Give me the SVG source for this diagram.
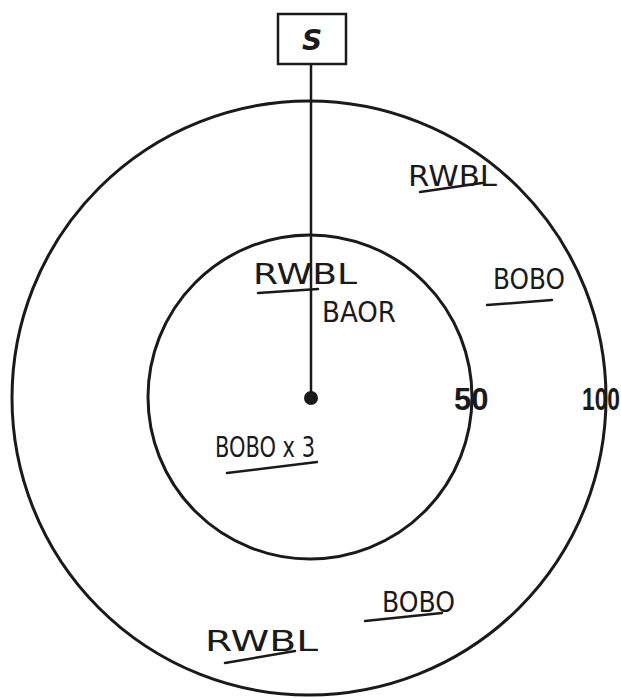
<svg xmlns="http://www.w3.org/2000/svg" width="621" height="698" viewBox="0 0 621 698">
<style>
.ring{fill:none;stroke:#1a1a1a;stroke-width:3}
.hand{font-family:"DejaVu Sans","Liberation Sans",sans-serif;fill:#1a1a1a;font-size:28px}
.ul{stroke:#1a1a1a;stroke-width:2.5;stroke-linecap:round;fill:none}
.num{font-family:"Liberation Sans",Arial,sans-serif;font-weight:bold;font-size:31px;fill:#1a1a1a}
</style>
<rect width="621" height="698" fill="#fff"/>
<g id="outer-ring"><circle class="ring" cx="309" cy="398" r="297"/></g>
<g id="inner-ring"><circle class="ring" cx="310" cy="397" r="162"/></g>
<g id="connectors"><line x1="311" y1="64" x2="311" y2="398" stroke="#1a1a1a" stroke-width="2.5"/></g>
<g id="node-s">
<rect x="278" y="14" width="68" height="50" fill="#fff" stroke="#1a1a1a" stroke-width="2.5"/>
<text class="hand" x="312" y="50" font-size="38" font-weight="bold" font-style="italic" text-anchor="middle">S</text>
</g>
<g id="center"><circle cx="311" cy="398" r="7" fill="#1a1a1a"/></g>
<g id="label-rwbl-top"><text class="hand" x="408" y="186" textLength="89" lengthAdjust="spacingAndGlyphs">RWBL</text><path class="ul" d="M420 192 L482 183"/></g>
<g id="label-bobo-right"><text class="hand" x="493" y="289" textLength="72" lengthAdjust="spacingAndGlyphs">BOBO</text><path class="ul" d="M487 305 L552 300"/></g>
<g id="label-rwbl-inner"><text class="hand" x="253" y="284" textLength="104" lengthAdjust="spacingAndGlyphs">RWBL</text><path class="ul" d="M258 293 L318 289"/></g>
<g id="label-baor"><text class="hand" x="322" y="322" textLength="74" lengthAdjust="spacingAndGlyphs">BAOR</text></g>
<g id="label-50"><text class="num" x="454" y="410">50</text></g>
<g id="label-100"><text class="num" x="582" y="410" textLength="38" lengthAdjust="spacingAndGlyphs">100</text></g>
<g id="label-bobo-x3"><text class="hand" x="215" y="457" font-size="25" textLength="100" lengthAdjust="spacingAndGlyphs">BOBO x 3</text><path class="ul" d="M227 473 L317 462"/></g>
<g id="label-bobo-bottom"><text class="hand" x="382" y="612" textLength="73" lengthAdjust="spacingAndGlyphs">BOBO</text><path class="ul" d="M365 621 L442 613"/></g>
<g id="label-rwbl-bottom"><text class="hand" x="205" y="651" font-size="38" textLength="113" lengthAdjust="spacingAndGlyphs">RWBL</text><path class="ul" d="M225 663 L295 651"/></g>
</svg>
